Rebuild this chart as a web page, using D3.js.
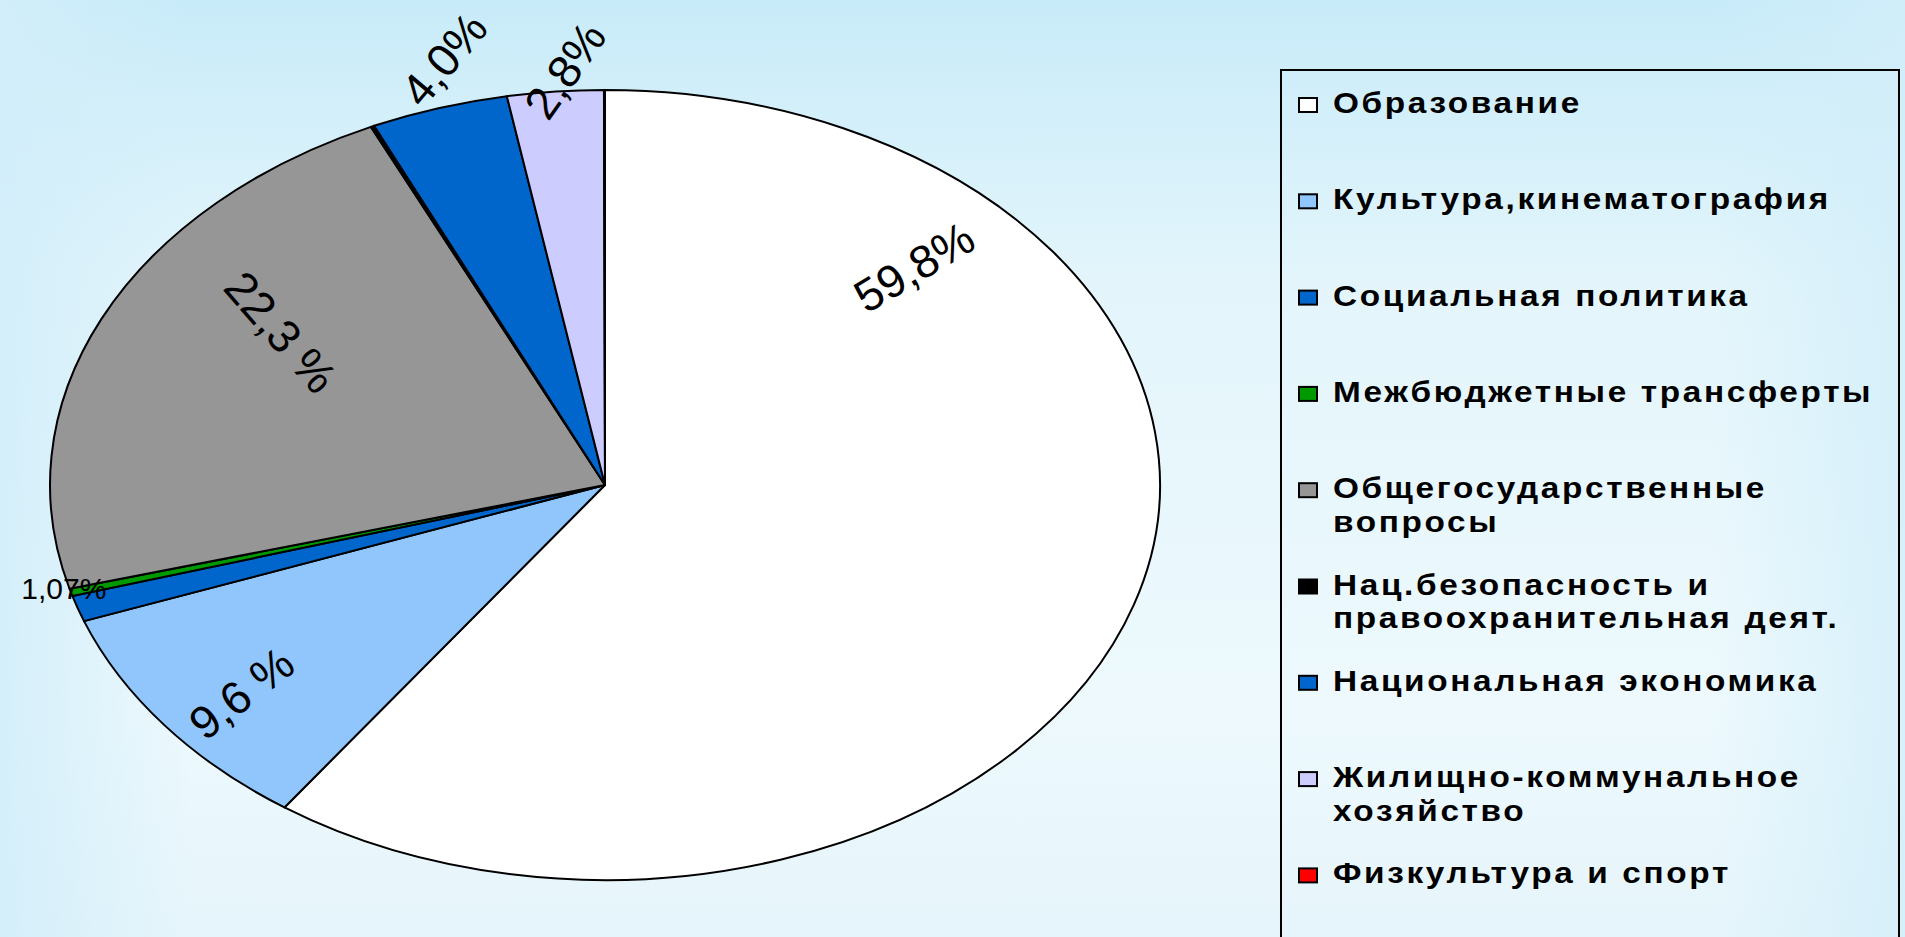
<!DOCTYPE html>
<html lang="ru">
<head>
<meta charset="utf-8">
<title>Структура расходов бюджета</title>
<script src="https://cdn.jsdelivr.net/npm/d3@7"></script>
<style>
html, body { margin: 0; padding: 0; overflow: hidden; }
body { width: 1905px; height: 937px; }
svg { display: block; }
</style>
</head>
<body>
<script>

// categories in legend / pie order (clockwise from 12 o'clock), "|" = line break in legend
var categories = [
  "Образование",
  "Культура,кинематография",
  "Социальная политика",
  "Межбюджетные трансферты",
  "Общегосударственные|вопросы",
  "Нац.безопасность и|правоохранительная деят.",
  "Национальная экономика",
  "Жилищно-коммунальное|хозяйство",
  "Физкультура и спорт"
];
var values = [59.8, 9.6, 1.07, 0.3, 22.3, 0.1, 4.0, 2.8, 0.03];
var valueLabels = ["59,8%", "9,6 %", "1,07%", "", "22,3 %", "", "4,0%", "2,8%", ""];

// styles
var colors = ["#ffffff", "#90c6fc", "#0066cc", "#009900", "#969696", "#000000", "#0066cc", "#ccccff", "#ff0000"];
// label placement, relative to the ellipse (fx, fy in radii units), rotation, font size
var labelLayout = [
  {fx: 0.557, fy: -0.552, rot: -31, size: 46},
  {fx: -0.655, fy: 0.527, rot: -38, size: 46},
  {fx: -0.975, fy: 0.262, rot: 0, size: 30},
  null,
  {fx: -0.584, fy: -0.387, rot: 49, size: 46},
  null,
  {fx: -0.290, fy: -1.078, rot: -50, size: 46},
  {fx: -0.072, fy: -1.050, rot: -55, size: 46},
  null
];

var W = 1905, H = 937;
var cx = 605, cy = 485, rx = 555, ry = 395;

var svg = d3.select("body").append("svg")
    .attr("width", W)
    .attr("height", H);

var defs = svg.append("defs");
var g1 = defs.append("linearGradient").attr("id", "bg").attr("x1", 0).attr("y1", 0).attr("x2", 0).attr("y2", 1);
g1.append("stop").attr("offset", "0%").attr("stop-color", "#c8ebf9");
g1.append("stop").attr("offset", "30%").attr("stop-color", "#e3f5fb");
g1.append("stop").attr("offset", "75%").attr("stop-color", "#edf9fd");
g1.append("stop").attr("offset", "100%").attr("stop-color", "#e6f5fb");
var g2 = defs.append("linearGradient").attr("id", "bgside").attr("x1", 0).attr("y1", 0).attr("x2", 1).attr("y2", 0);
g2.append("stop").attr("offset", "0%").attr("stop-color", "#d2eefa").attr("stop-opacity", 0.9);
g2.append("stop").attr("offset", "10%").attr("stop-color", "#d2eefa").attr("stop-opacity", 0);
g2.append("stop").attr("offset", "90%").attr("stop-color", "#d2eefa").attr("stop-opacity", 0);
g2.append("stop").attr("offset", "100%").attr("stop-color", "#d2eefa").attr("stop-opacity", 0.8);

svg.append("rect").attr("width", W).attr("height", H).attr("fill", "url(#bg)");
svg.append("rect").attr("width", W).attr("height", H).attr("fill", "url(#bgside)");

var data = categories.map(function(c, i) {
  return {name: c, value: values[i], label: valueLabels[i], color: colors[i], layout: labelLayout[i]};
});

var pie = d3.pie()
    .sort(null)
    .value(function(d) { return d.value; });

var arc = d3.arc()
    .innerRadius(0)
    .outerRadius(ry);

var pieG = svg.append("g")
    .attr("transform", "translate(" + cx + "," + cy + ") scale(" + (rx / ry) + ",1)");

pieG.selectAll("path")
    .data(pie(data))
    .enter()
    .append("path")
    .attr("d", arc)
    .attr("fill", function(d) { return d.data.color; })
    .attr("stroke", "#000")
    .attr("stroke-width", 2)
    .attr("stroke-linejoin", "round")
    .attr("vector-effect", "non-scaling-stroke");

// value labels
svg.append("g").selectAll("text")
    .data(data.filter(function(d) { return d.label && d.layout; }))
    .enter()
    .append("text")
    .attr("transform", function(d) {
      var x = cx + d.layout.fx * rx, y = cy + d.layout.fy * ry;
      return "translate(" + x + "," + y + ") rotate(" + d.layout.rot + ")";
    })
    .attr("text-anchor", "middle")
    .attr("dy", "0.35em")
    .attr("font-family", "'Liberation Sans', Arial, sans-serif")
    .attr("font-size", function(d) { return d.layout.size; })
    .attr("fill", "#000")
    .text(function(d) { return d.label; });

// legend
var lgX = 1281, lgY = 70, lgW = 618, lgH = 900;
var legend = svg.append("g");
legend.append("rect")
    .attr("x", lgX).attr("y", lgY)
    .attr("width", lgW).attr("height", lgH)
    .attr("fill", "none")
    .attr("stroke", "#000")
    .attr("stroke-width", 2);

var rowStep = 96.3, firstRow = 103;
var item = legend.selectAll(".item")
    .data(data)
    .enter()
    .append("g")
    .attr("class", "item")
    .attr("transform", function(d, i) { return "translate(" + lgX + "," + (firstRow + i * rowStep) + ")"; });

item.append("rect")
    .attr("x", 18).attr("y", -5)
    .attr("width", 18).attr("height", 14)
    .attr("fill", function(d) { return d.color; })
    .attr("stroke", "#000")
    .attr("stroke-width", 2);

item.append("g")
    .attr("transform", "translate(52,0) scale(1.15,1)")
    .append("text")
    .attr("font-family", "'Liberation Sans', Arial, sans-serif")
    .attr("font-weight", "bold")
    .attr("font-size", 29)
    .attr("letter-spacing", "2.3px")
    .attr("fill", "#000")
    .selectAll("tspan")
    .data(function(d) { return d.name.split("|"); })
    .enter()
    .append("tspan")
    .attr("x", 0)
    .attr("y", function(t, j) { return 10 + j * 34; })
    .text(function(t) { return t; });

</script>
</body>
</html>
